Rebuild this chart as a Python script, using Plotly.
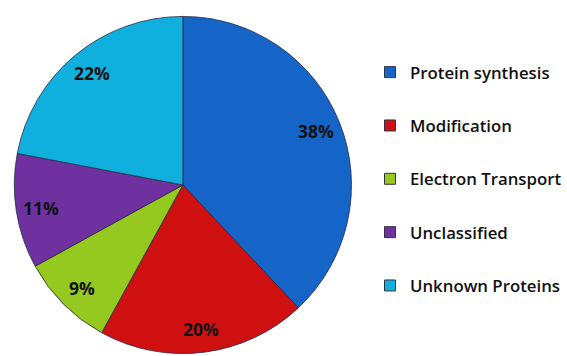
import math
import plotly.graph_objects as go

categories = ["Protein synthesis", "Modification", "Electron Transport", "Unclassified", "Unknown Proteins"]
values = [38, 20, 9, 11, 22]
colors = ["#1565C9", "#CF1010", "#95C91F", "#6F31A0", "#10B0DE"]

W, H = 567, 356
mt, mb = 14, 0
ph = H - mt - mb
R = ph / 2
cx_px = 185.5
dom_x = [(cx_px - R) / W, (cx_px + R) / W]

fig = go.Figure()
fig.add_trace(go.Pie(
    labels=categories, values=values, sort=False, direction="clockwise", rotation=0,
    marker=dict(colors=colors, line=dict(color="rgba(40,40,70,0.8)", width=1)),
    textinfo="none", hoverinfo="label+percent", showlegend=False,
    domain=dict(x=dom_x, y=[0, 1]),
))

# legend entries via dummy traces so item spacing can be controlled
for i, (c, col) in enumerate(zip(categories, colors)):
    fig.add_trace(go.Scatter(
        x=[None], y=[None], mode="markers", name=c, legendgroup=f"g{i}",
        marker=dict(symbol="square", size=11, color=col, line=dict(color="#333344", width=1)),
    ))

# percentage labels placed along each slice bisector
total = sum(values)
cum = 0
cx = (dom_x[0] + dom_x[1]) / 2
for v in values:
    mid = 2 * math.pi * (cum + v / 2) / total
    cum += v
    rf = 0.85 * R
    fig.add_annotation(
        x=cx + rf * math.sin(mid) / W, y=0.5 + rf * math.cos(mid) / ph,
        xref="paper", yref="paper", xanchor="center", yanchor="middle", showarrow=False,
        text=f"{round(100 * v / total)}%",
        font=dict(family="Open Sans", size=17.5, color="#111111", weight="bold"),
    )

fig.update_layout(
    width=W, height=H, margin=dict(l=0, r=0, t=mt, b=mb),
    paper_bgcolor="white", plot_bgcolor="white",
    xaxis=dict(visible=False), yaxis=dict(visible=False),
    legend=dict(x=0.662, y=0.881, xanchor="left", yanchor="top", tracegroupgap=28.5,
                font=dict(family="Open Sans", size=16.8, color="#111111", weight=600),
                bgcolor="rgba(0,0,0,0)"),
    showlegend=True,
)

fig.write_html("out.html")
